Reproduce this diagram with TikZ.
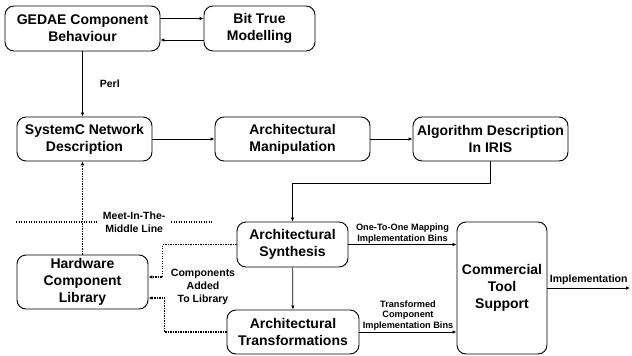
\documentclass[tikz,border=0pt]{standalone}
\usepackage{fontspec}
\setmainfont{Liberation Sans}
\usetikzlibrary{arrows.meta,positioning,calc}

\begin{document}
\begin{tikzpicture}[
  x=1pt,y=-1pt,
  font=\bfseries,
  block/.style={draw,line width=0.9pt,rounded corners=9pt,fill=white,align=center,
    inner sep=0pt,font=\bfseries\fontsize{14}{17}\selectfont},
  flow/.style={-{Latex[length=4pt,width=3.5pt]},line width=0.7pt},
  dotflow/.style={flow,line width=1.1pt,dash pattern=on 1.1pt off 1.4pt},
  lab/.style={font=\bfseries\fontsize{10.5}{13}\selectfont,align=center,inner sep=1pt},
  binlab/.style={font=\bfseries\fontsize{9.2}{10.8}\selectfont,align=center,inner sep=1pt}
]
\useasboundingbox (0,0) rectangle (632,356);
\node[block,minimum width=155pt,minimum height=45pt] (gedae) at (82.5,28.5) {GEDAE Component\\Behaviour};
\node[block,minimum width=111pt,minimum height=45pt] (bit) at (259.5,28.5) {Bit True\\Modelling};
\node[block,minimum width=135pt,minimum height=44pt] (sysc) at (84.5,139) {SystemC Network\\Description};
\node[block,minimum width=155pt,minimum height=44pt] (manip) at (292.5,139) {Architectural\\Manipulation};
\node[block,minimum width=155pt,minimum height=44pt] (iris) at (490.5,139) {Algorithm Description\\In IRIS};
\node[block,minimum width=111pt,minimum height=45pt] (synth) at (292.5,244.5) {Architectural\\Synthesis};
\node[block,minimum width=132pt,minimum height=44pt] (trans) at (293,332) {Architectural\\Transformations};
\node[block,minimum width=90pt,minimum height=132pt] (tool) at (502,288) {Commercial\\Tool\\Support};
\node[block,minimum width=131pt,minimum height=54pt] (hwlib) at (82.5,282) {Hardware\\Component\\Library};
\coordinate (out) at (630,288);
\coordinate (mL) at (16,222);
\coordinate (mR) at (213,222);
\draw[flow] ([yshift=10pt]gedae.east) -- ([yshift=10pt]bit.west);
\draw[flow] ([yshift=-11.5pt]bit.west) -- ([yshift=-11.5pt]gedae.east);
\draw[flow] (gedae.south) -- node[lab,right=16pt] {Perl} (gedae.south |- sysc.north);
\draw[flow] (sysc) -- (manip);
\draw[flow] (manip) -- (iris);
\draw[flow] (iris.south) -- ++(0,22) -| (synth.north);
\draw[flow] (synth) -- (trans);
\draw[flow] (synth.east) -- node[binlab,above] {One-To-One Mapping\\Implementation Bins} (synth.east -| tool.west);
\draw[flow] (trans.east) -- node[binlab,above] {Transformed\\Component\\Implementation Bins} (trans.east -| tool.west);
\draw[flow] (tool.east |- out) -- node[lab,above=2pt] {Implementation} (out);
% meet-in-the-middle line and the library feedback
\draw[dotflow] (hwlib.north) -- (hwlib.north |- sysc.south);
\draw[dotflow,-] (mL) -- node[lab,pos=0.6,fill=white,inner xsep=6pt] {Meet-In-The-\\Middle Line} (mR);
\draw[dotflow] (synth.west) -- ++(-74,0) |- ([yshift=5pt]hwlib.east);
\draw[dotflow] (trans.west) -- ++(-62,0) |- ([yshift=-16pt]hwlib.east);
\node[lab] (added) at (203,287) {Components\\Added\\To Library};
\end{tikzpicture}
\end{document}
